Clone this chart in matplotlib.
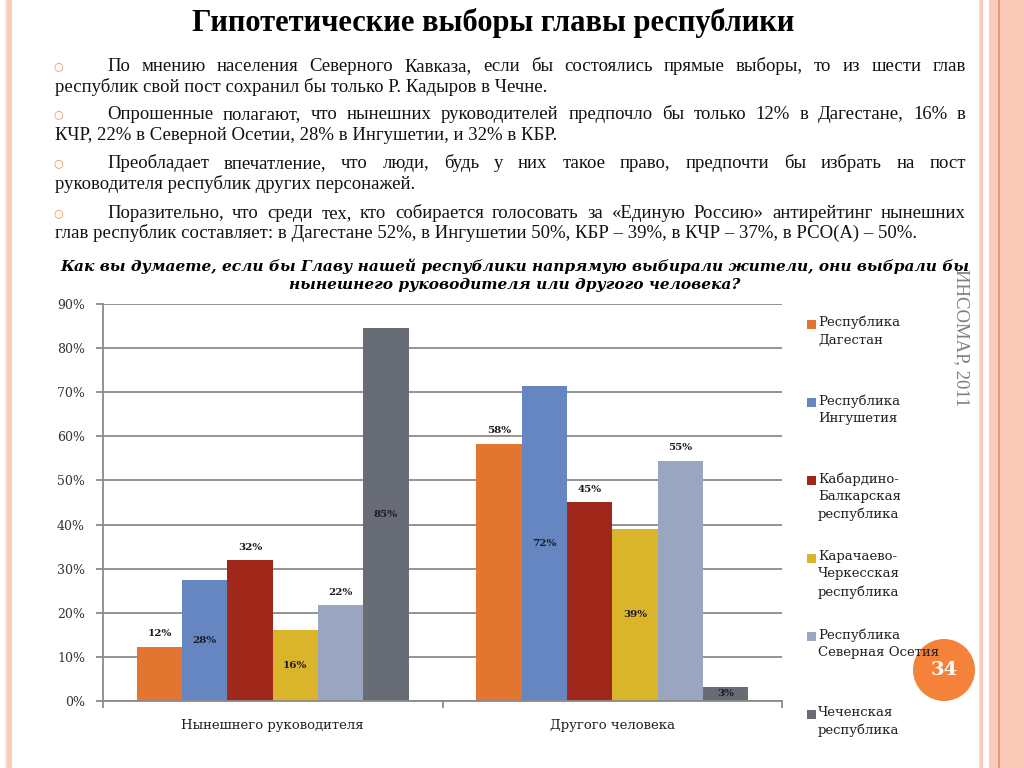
import matplotlib
matplotlib.use("Agg")
import matplotlib.pyplot as plt
from matplotlib.patches import Rectangle, Ellipse

W, H = 1024, 768

# data
categories = ["Нынешнего руководителя", "Другого человека"]
series_names = [
    "Республика\nДагестан",
    "Республика\nИнгушетия",
    "Кабардино-\nБалкарская\nреспублика",
    "Карачаево-\nЧеркесская\nреспублика",
    "Республика\nСеверная Осетия",
    "Чеченская\nреспублика",
]
current_leader = [12.3, 27.5, 32.0, 16.1, 21.8, 84.5]
other_person = [58.3, 71.5, 45.1, 39.0, 54.5, 3.2]
colors = ["#E2752F", "#6686C1", "#A0281A", "#DAB42A", "#9AA5BF", "#686C74"]
# где подпись стоит над столбцом, а где внутри
label_outside = [True, False, True, False, True, False]

title = "Гипотетические выборы главы республики"
paragraphs = [
    ["По мнению населения Северного Кавказа, если бы состоялись прямые выборы, то из шести глав",
     "республик свой пост сохранил бы только Р. Кадыров в Чечне."],
    ["Опрошенные полагают, что нынешних руководителей предпочло бы только 12% в Дагестане, 16% в",
     "КЧР, 22% в Северной Осетии, 28% в Ингушетии, и 32% в КБР."],
    ["Преобладает впечатление, что люди, будь у них такое право, предпочти бы избрать на пост",
     "руководителя республик других персонажей."],
    ["Поразительно, что среди тех, кто собирается голосовать за «Единую Россию» антирейтинг нынешних",
     "глав республик составляет: в Дагестане 52%, в Ингушетии 50%, КБР – 39%, в КЧР – 37%, в РСО(А) – 50%."],
]
question = ("Как вы думаете, если бы Главу нашей республики напрямую выбирали жители, они выбрали бы\n"
            "нынешнего руководителя или другого человека?")
source = "ИНСОМАР, 2011"
page_no = "34"


def fx(px):
    return px / W


def fy(py):
    return 1 - py / H


def justify(fig, renderer, line, x0, x1, y, **kw):
    words = line.split(" ")
    texts = [fig.text(0, fy(y), w, va="baseline", **kw) for w in words]
    widths = [t.get_window_extent(renderer).width for t in texts]
    gap = (x1 - x0 - sum(widths)) / (len(texts) - 1)
    x = x0
    for t, w in zip(texts, widths):
        t.set_x(fx(x))
        x += w + gap


fig = plt.figure(figsize=(W / 100, H / 100), dpi=100)
renderer = fig.canvas.get_renderer()

# декоративные полосы слайда
for x0, x1, c in [(5, 7, "#F8E2D8"), (7, 12, "#FBC9B8"),
                  (979, 980, "#FBE0D6"), (980, 983, "#FBC9B8"),
                  (989, 1024, "#FCCAB8"), (998, 999.5, "#E59877")]:
    fig.add_artist(Rectangle((fx(x0), 0), fx(x1 - x0), 1, transform=fig.transFigure,
                             color=c, lw=0, zorder=0))

fig.text(fx(493), fy(23), title, ha="center", va="center", fontsize=22,
         fontweight="bold", family="Liberation Serif")

# маркированный текст
line_y = [[71, 92], [119, 140], [168, 189], [218, 238]]
body_kw = dict(fontsize=13.5, family="Liberation Serif", color="#111111")
for para, ys in zip(paragraphs, line_y):
    fig.text(fx(58), fy(ys[0] - 5), "○", ha="center", va="center", fontsize=8,
             color="#EE8A50", family="DejaVu Sans")
    justify(fig, renderer, para[0], 107, 966, ys[0], **body_kw)
    fig.text(fx(55), fy(ys[1]), para[1], va="baseline", **body_kw)

fig.text(fx(515), fy(275), question, ha="center", va="center", fontsize=11.1,
         fontweight="bold", fontstyle="italic", family="DejaVu Serif",
         linespacing=1.35)

# диаграмма
ax = fig.add_axes([fx(103), fy(701), fx(782 - 103), (701 - 304) / H])
n = len(series_names)
bw = 0.8 / n
for i in range(n):
    vals = [current_leader[i], other_person[i]]
    xs = [c + (i - (n - 1) / 2) * bw for c in range(len(categories))]
    ax.bar(xs, vals, width=bw, color=colors[i], zorder=2)
    for x, v in zip(xs, vals):
        lab = f"{int(v + 0.5)}%"
        if label_outside[i]:
            ax.annotate(lab, (x, v), xytext=(0, 6), textcoords="offset points",
                        ha="center", va="bottom", fontsize=7.5, fontweight="bold",
                        family="DejaVu Serif", color="#1a1a1a")
        else:
            ax.text(x, v / 2, lab, ha="center", va="center", fontsize=7.5,
                    fontweight="bold", family="DejaVu Serif", color="#1a1a2a")

grid_c = "#8A8A8A"
ax.set_xlim(-0.5, 1.5)
ax.set_ylim(0, 90)
ax.set_yticks(range(0, 91, 10))
ax.set_yticklabels([f"{v}%" for v in range(0, 91, 10)], family="DejaVu Serif",
                   fontsize=9, color="#333333")
ax.yaxis.grid(True, color=grid_c, lw=1.3, zorder=0)
ax.set_axisbelow(True)
ax.tick_params(axis="y", length=5, width=1.3, color=grid_c, pad=8)
ax.set_xticks([0, 1])
ax.set_xticklabels(categories, family="DejaVu Serif", fontsize=9.5, color="#222222")
ax.set_xticks([-0.5, 0.5, 1.5], minor=True)
ax.tick_params(axis="x", which="major", length=0, pad=13)
ax.tick_params(axis="x", which="minor", length=5, width=1.3, color=grid_c)
for s in ["top", "right"]:
    ax.spines[s].set_visible(False)
for s in ["left", "bottom"]:
    ax.spines[s].set_color(grid_c)
    ax.spines[s].set_linewidth(1.3)

# легенда справа
for i, name in enumerate(series_names):
    yc = 324 + 78 * i
    fig.add_artist(Rectangle((fx(807), fy(yc + 4.5)), fx(9), 9 / H,
                             transform=fig.transFigure, color=colors[i], lw=0))
    fig.text(fx(818), fy(yc - 8), name, va="top", fontsize=9.5,
             family="DejaVu Serif", color="#222222", linespacing=1.45)

fig.text(fx(961), fy(338), source, rotation=270, ha="center", va="center",
         fontsize=13.5, family="Liberation Serif", color="#808080")

fig.add_artist(Ellipse((fx(944), fy(670)), fx(62), 62 / H, transform=fig.transFigure,
                       color="#F5823A", lw=0, zorder=1))
fig.text(fx(944), fy(670), page_no, ha="center", va="center", fontsize=14,
         fontweight="bold", family="DejaVu Serif", color="white", zorder=4)

fig.savefig("out.png", dpi=100)
